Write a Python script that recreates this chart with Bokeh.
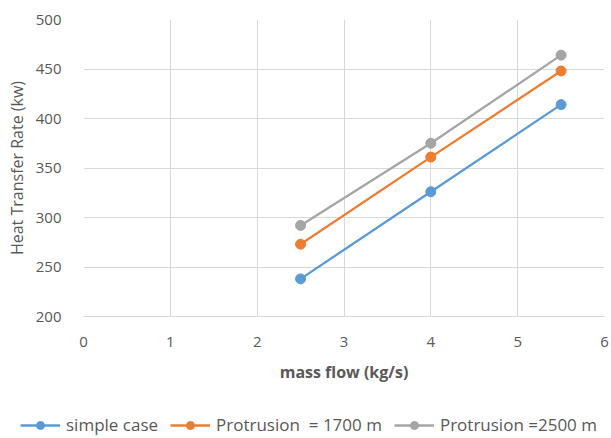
from bokeh.plotting import figure
from bokeh.models import Legend, FixedTicker, Range1d
from bokeh.embed import file_html
from bokeh.resources import INLINE

mass_flow = [2.5, 4, 5.5]
simple_case = [238, 326, 414]
protrusion_1700 = [273, 361, 448]
protrusion_2500 = [292, 375, 464]
series_names = ["simple case", "Protrusion  = 1700 m", "Protrusion =2500 m"]
x_ticks = [0, 1, 2, 3, 4, 5, 6]
y_ticks = [200, 250, 300, 350, 400, 450, 500]

colors = ["#5B9BD5", "#ED7D31", "#A5A5A5"]
FONT = "Open Sans"
TXT = "#595959"
LEG_H = 30

p = figure(frame_width=521, frame_height=297, output_backend="svg", toolbar_location=None,
           x_range=Range1d(0, 6), y_range=Range1d(200, 500),
           min_border_left=83, min_border_right=7, min_border_top=19,
           min_border_bottom=438 - LEG_H - 316)
p.outline_line_color = None
p.background_fill_color = "white"
p.border_fill_color = "white"

for ax in (p.xaxis[0], p.yaxis[0]):
    ax.major_tick_line_color = None
    ax.minor_tick_line_color = None
    ax.major_label_text_font = FONT
    ax.major_label_text_font_size = "15px"
    ax.major_label_text_color = TXT
    ax.axis_label_text_font = FONT
    ax.axis_label_text_color = TXT
    ax.axis_label_text_font_style = "normal"

p.xaxis.ticker = FixedTicker(ticks=x_ticks)
p.yaxis.ticker = FixedTicker(ticks=y_ticks)
p.xaxis.axis_line_color = "#D9D9D9"
p.yaxis.axis_line_color = None
p.xaxis.major_label_standoff = 14
p.yaxis.major_label_standoff = 16
p.xaxis.axis_label = "mass flow (kg/s)"
p.xaxis.axis_label_text_font_style = "bold"
p.xaxis.axis_label_text_font_size = "16px"
p.xaxis.axis_label_standoff = 11
p.yaxis.axis_label = "Heat Transfer Rate (kw)"
p.yaxis.axis_label_text_font_size = "16px"
p.yaxis.axis_label_standoff = 5

p.grid.grid_line_color = "#D9D9D9"
p.grid.grid_line_width = 1

series = [simple_case, protrusion_1700, protrusion_2500]
for vals, c in zip(series, colors):
    p.line(mass_flow, vals, line_color=c, line_width=2.3)
    p.scatter(mass_flow, vals, size=10, fill_color=c, line_color=c)

# separate strip (own root, so no frame alignment) for the legend below the chart
lg = figure(width=611, height=LEG_H, output_backend="svg", toolbar_location=None,
            x_range=Range1d(0, 1), y_range=Range1d(0, 1),
            x_axis_location=None, y_axis_location=None,
            min_border_left=0, min_border_right=0, min_border_top=0, min_border_bottom=0)
lg.outline_line_color = None
lg.grid.visible = False
items = []
for name, c in zip(series_names, colors):
    l = lg.line([-5, -4], [-5, -5], line_color=c, line_width=2.3)
    s = lg.scatter([-5], [-5], size=10, fill_color=c, line_color=c)
    items.append((name, [l, s]))
legend = Legend(items=items, orientation="horizontal", location=(20, 2),
                label_text_font=FONT, label_text_font_size="17px", label_text_color=TXT,
                border_line_color=None, background_fill_alpha=0,
                glyph_width=40, spacing=12, label_standoff=6, padding=0, margin=0)
lg.add_layout(legend, "center")

open("out.html", "w").write(file_html([p, lg], INLINE))
